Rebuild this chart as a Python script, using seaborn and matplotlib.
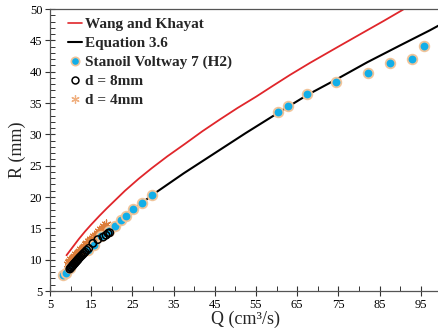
import matplotlib
matplotlib.use("Agg")
import matplotlib.pyplot as plt
import seaborn as sns
import pandas as pd
from matplotlib.ticker import FixedLocator
from matplotlib.lines import Line2D

# ---- data ----
wang_q = [9.0, 10.5, 12.0, 13.5, 15.0, 17.0, 18.8, 21.0, 23.2, 26.5, 29.7, 33.5, 37.8, 42.0,
          46.3, 50.5, 55.0, 59.0, 63.3, 68.1, 75.0, 81.7, 86.0, 90.7]
wang_r = [10.7, 12.0, 13.3, 14.5, 15.6, 17.0, 18.2, 19.6, 21.0, 22.9, 24.6, 26.5, 28.5, 30.5,
          32.4, 34.2, 36.0, 37.7, 39.5, 41.4, 44.0, 46.5, 48.1, 49.9]

eq_q = [8.3, 10.0, 12.5, 15.0, 17.5, 20.0, 25.0, 30.0, 37.5, 45.0, 52.5, 60.3, 67.5, 74.6,
        82.0, 90.0, 97.2, 100.0]
eq_r = [7.6, 8.9, 10.6, 12.2, 13.7, 15.1, 17.9, 20.4, 23.8, 27.0, 30.2, 33.4, 36.3, 38.8,
        41.5, 44.2, 46.6, 47.6]

stan_q = [8.2, 8.8, 9.85, 14.3, 15.75, 17.5, 19.2, 20.8, 22.2, 23.4, 25.2, 27.3, 29.7,
          60.4, 62.7, 67.5, 74.5, 82.1, 87.6, 92.9, 95.8]
stan_r = [7.55, 7.8, 8.6, 11.5, 12.3, 13.7, 14.5, 15.4, 16.3, 17.0, 18.1, 19.1, 20.3,
          33.5, 34.6, 36.5, 38.3, 39.8, 41.4, 42.0, 44.1]

d8_q = [9.8, 10.0, 10.2, 10.4, 10.6, 10.8, 11.0, 11.2, 11.4, 11.6, 11.8, 12.0, 12.3, 12.6,
        12.9, 13.2, 13.5, 13.9, 14.4, 15.4, 16.6, 17.9, 18.6, 19.1, 19.5]
d8_r = [8.5, 8.7, 8.8, 9.0, 9.1, 9.3, 9.4, 9.6, 9.7, 9.9, 10.0, 10.2, 10.4, 10.6,
        10.8, 11.0, 11.2, 11.5, 11.8, 12.6, 13.2, 13.6, 13.9, 14.2, 14.3]

d4_q = [9.3, 9.6, 9.9, 10.2, 10.5, 10.8, 11.1, 11.4, 11.7, 12.0, 12.3, 12.6, 12.9, 13.2,
        13.5, 13.8, 14.1, 14.4, 14.7, 15.0, 15.4, 15.8, 16.2, 16.6, 17.0, 17.4, 17.8, 18.2, 18.6]
d4_r = [9.3, 9.6, 9.8, 10.1, 10.2, 10.5, 10.6, 10.9, 11.0, 11.3, 11.4, 11.7, 11.8, 12.1,
        12.2, 12.5, 12.6, 12.9, 13.0, 13.3, 13.5, 13.8, 14.0, 14.3, 14.5, 14.9, 15.0, 15.3, 15.7]

x_ticks = [5, 15, 25, 35, 45, 55, 65, 75, 85, 95]
y_ticks = [5, 10, 15, 20, 25, 30, 35, 40, 45, 50]

sns.set_theme(style="white")
plt.rcParams["font.family"] = ["Liberation Serif", "DejaVu Serif"]

fig = plt.figure(figsize=(4.39, 3.28), dpi=100)
ax = fig.add_axes([50 / 439, 37 / 328, 391.4 / 439, 282 / 328])

red = "#e0262b"
blue = "#12aee8"
peach = "#f0c49a"
orange = "#dc7d3a"

sns.lineplot(x=wang_q, y=wang_r, ax=ax, color=red, lw=1.3, sort=False)
sns.lineplot(x=eq_q, y=eq_r, ax=ax, color="black", lw=1.5, sort=False)
sns.scatterplot(x=d4_q, y=d4_r, ax=ax, marker=(6, 2, 0), s=42, color=orange,
                linewidth=0.9, edgecolor=orange, zorder=3)
sns.scatterplot(x=stan_q, y=stan_r, ax=ax, marker="o", s=48, color=blue,
                edgecolor=peach, linewidth=1.3, zorder=4)
sns.scatterplot(x=d8_q, y=d8_r, ax=ax, marker="o", s=28, facecolor="none",
                edgecolor="black", linewidth=1.1, zorder=5)

ax.set_xlim(5, 100)
ax.set_ylim(5, 50)
ax.xaxis.set_major_locator(FixedLocator(x_ticks))
ax.xaxis.set_minor_locator(FixedLocator([v for v in range(10, 101, 10)]))
ax.yaxis.set_major_locator(FixedLocator(y_ticks))
ax.yaxis.set_minor_locator(FixedLocator([v for v in range(5, 51) if v % 5 != 0]))
ax.tick_params(which="major", direction="inout", length=7, width=0.8, colors="#333333",
               labelsize=9, labelcolor="black", bottom=True, left=True, pad=2)
ax.tick_params(which="minor", direction="in", length=3.5, width=0.7, colors="#333333",
               bottom=True, left=True)

for s in ["left", "bottom", "top"]:
    ax.spines[s].set_color("#555555")
    ax.spines[s].set_linewidth(0.9)
ax.spines["right"].set_visible(False)

ax.set_xlabel("Q (cm³/s)", fontsize=13, labelpad=0)
ax.set_ylabel("R (mm)", fontsize=13, labelpad=3)

handles = [
    Line2D([], [], color=red, lw=1.2),
    Line2D([], [], color="black", lw=1.5),
    Line2D([], [], ls="none", marker="o", ms=6, mfc=blue, mec=peach, mew=1.2),
    Line2D([], [], ls="none", marker="o", ms=5, mfc="none", mec="black", mew=1.1),
    Line2D([], [], ls="none", marker=(6, 2, 0), ms=6, color="#f0b080", mew=0.9),
]
labels = ["Wang and Khayat", "Equation 3.6", "Stanoil Voltway 7 (H2)", "d = 8mm", "d = 4mm"]
ax.legend(handles, labels, loc="upper left", frameon=False, handlelength=0.9,
          handletextpad=0.2, labelspacing=0.35, borderaxespad=0.15,
          bbox_to_anchor=(0.025, 1.0),
          prop={"family": "Liberation Serif", "weight": "bold", "size": 11})

fig.savefig("out.png", dpi=100)
